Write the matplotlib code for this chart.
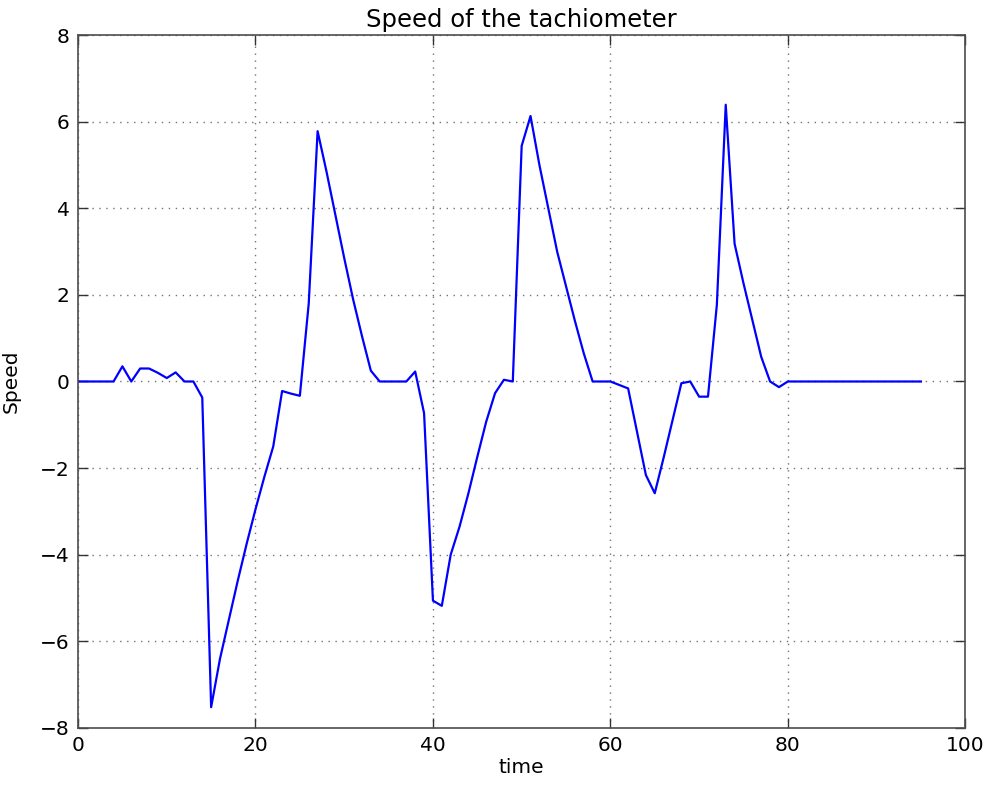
import matplotlib
matplotlib.use('Agg')
import numpy as np
import matplotlib.pyplot as plt

# time samples (one per second)
time = np.arange(0, 96)

# speed, one value per sample
speed = [
    0.0, 0.0, 0.0, 0.0, 0.0, 0.35, 0.0, 0.3, 0.3, 0.2,
    0.08, 0.21, 0.0, 0.0, -0.37, -7.52, -6.4, -5.5, -4.6, -3.75,
    -2.95, -2.2, -1.5, -0.22, -0.28, -0.33, 1.8, 5.78, 4.85, 3.85,
    2.85, 1.9, 1.05, 0.25, 0.0, 0.0, 0.0, 0.0, 0.23, -0.73,
    -5.06, -5.18, -4.0, -3.35, -2.58, -1.74, -0.93, -0.27, 0.04, 0.0,
    5.44, 6.13, 5.0, 4.0, 3.0, 2.2, 1.4, 0.65, 0.0, 0.0,
    0.0, -0.08, -0.16, -1.16, -2.16, -2.58, -1.76, -0.9, -0.04, 0.0,
    -0.35, -0.35, 1.77, 6.39, 3.18, 2.27, 1.42, 0.57, 0.0, -0.13,
    0.0, 0.0, 0.0, 0.0, 0.0, 0.0, 0.0, 0.0, 0.0, 0.0,
    0.0, 0.0, 0.0, 0.0, 0.0, 0.0,
]

plt.rcParams['font.family'] = 'DejaVu Sans'

fig, ax = plt.subplots(figsize=(9.88, 7.87), dpi=100)
fig.subplots_adjust(left=0.079, right=0.977, top=0.9555, bottom=0.075)

ax.plot(time, speed, color='#0000ff', lw=1.6)

ax.set_xlim(0, 100)
ax.set_ylim(-8, 8)
ax.set_xticks(np.arange(0, 101, 20))
ax.set_yticks(np.arange(-8, 9, 2))

# dotted grid, sparse light dots like the old classic look
ax.grid(True, linestyle=(0, (1, 4)), color='0.45', lw=1.0)
ax.tick_params(direction='in', top=True, right=True, length=7, width=1,
               labelsize=14.5, pad=6, color='0.2')
for s in ax.spines.values():
    s.set_color('0.3')
    s.set_linewidth(1.2)

ax.set_title('Speed of the tachiometer', fontsize=17.5, pad=6)
ax.set_xlabel('time', fontsize=14.5, labelpad=2)
ax.set_ylabel('Speed', fontsize=14.5, labelpad=14)

plt.savefig('out.png', dpi=100, facecolor='white')
